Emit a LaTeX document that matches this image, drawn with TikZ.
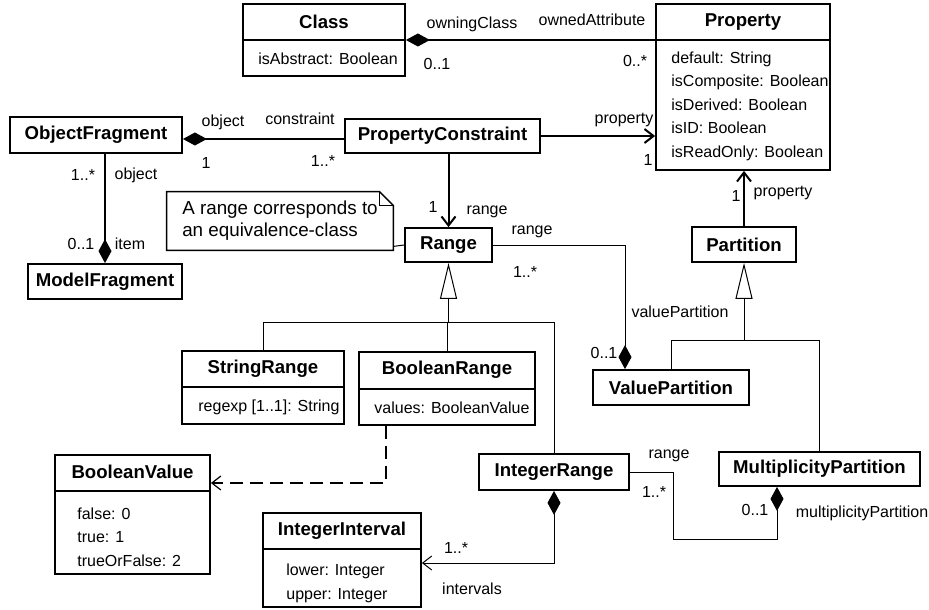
\documentclass[tikz,border=0pt]{standalone}
\usepackage{fontspec}
\setmainfont{Liberation Sans}
\usetikzlibrary{arrows.meta, shadows}

\begin{document}
\begin{tikzpicture}[
  x=0.5pt, y=-0.5pt,
  cls/.style={draw, line width=0.9pt, fill=white, inner sep=0pt,
              general shadow={fill=black!30, shadow xshift=0.7pt, shadow yshift=-0.7pt}},
  cname/.style={font=\bfseries\fontsize{9.3}{11}\selectfont, inner sep=0pt},
  attrs/.style={font=\fontsize{8}{11.75}\selectfont, align=left, anchor=west, inner sep=0pt},
  role/.style={font=\fontsize{8}{10}\selectfont, inner sep=0pt},
  assoc/.style={line width=1pt},
  thinline/.style={line width=0.5pt},
  compstart/.style={{Diamond[length=12pt, width=6.5pt]}-},
  compend/.style={-{Diamond[length=12pt, width=6.5pt]}},
  compnav/.style={{Diamond[length=12pt, width=6.5pt]}-{Straight Barb[length=4.5pt, width=7pt]}},
  nav/.style={-{Straight Barb[length=4.5pt, width=7pt]}},
  gen/.style={line width=0.5pt, -{Triangle[length=18pt, width=8.5pt, fill=white]}},
  dep/.style={line width=1pt, dash pattern=on 6.5pt off 3.5pt,
              -{Straight Barb[length=4.5pt, width=7pt, line width=0.6pt]}}
]
\useasboundingbox (0,0) rectangle (929,609);

% Top row — Class and Property
\node[cls, minimum width=81pt, minimum height=36pt] at (324,40)  (class) {};
\node[cname] at (324,22)  (classN) {Class};
\node[attrs] at (258,59)  (classA) {isAbstract: Boolean};
\draw[line width=0.9pt] ([yshift=-18.5pt]class.north west) -- ([yshift=-18.5pt]class.north east);

\node[cls, minimum width=87pt, minimum height=83pt] at (743,87)  (property) {};
\node[cname] at (743,22)  (propertyN) {Property};
\node[attrs] at (671,106) (propertyA) {default: String\\isComposite: Boolean\\isDerived: Boolean\\isID: Boolean\\isReadOnly: Boolean};
\draw[line width=0.9pt] ([yshift=-18.5pt]property.north west) -- ([yshift=-18.5pt]property.north east);

% Second row — fragments and constraint
\node[cls, cname, minimum width=86pt, minimum height=18pt]   at (96,135)    (objfrag)   {ObjectFragment};
\node[cls, cname, minimum width=77pt, minimum height=17.5pt] at (105,281.5) (modelfrag) {ModelFragment};
\node[cls, cname, minimum width=97.5pt, minimum height=17pt] at (442.5,136) (pcons)     {PropertyConstraint};

% Ranges
\node[cls, cname, minimum width=43.5pt, minimum height=17pt] at (448.5,245) (range) {Range};

\node[cls, minimum width=81pt, minimum height=36.5pt] at (263,387.5) (srange) {};
\node[cname] at (263,369) (srangeN) {StringRange};
\node[attrs] at (198,407) (srangeA) {regexp [1..1]: String};
\draw[line width=0.9pt] ([yshift=-18.5pt]srange.north west) -- ([yshift=-18.5pt]srange.north east);

\node[cls, minimum width=88pt, minimum height=36.5pt] at (447,388.5) (brange) {};
\node[cname] at (447,370) (brangeN) {BooleanRange};
\node[attrs] at (374,408) (brangeA) {values: BooleanValue};
\draw[line width=0.9pt] ([yshift=-19pt]brange.north west) -- ([yshift=-19pt]brange.north east);

\node[cls, cname, minimum width=75pt, minimum height=18pt] at (554,472) (irange) {IntegerRange};

\node[cls, minimum width=77.5pt, minimum height=59.5pt] at (132.5,514.5) (bvalue) {};
\node[cname] at (132.5,472) (bvalueN) {BooleanValue};
\node[attrs] at (77,537) (bvalueA) {false: 0\\true: 1\\trueOrFalse: 2};
\draw[line width=0.9pt] ([yshift=-18.5pt]bvalue.north west) -- ([yshift=-18.5pt]bvalue.north east);

\node[cls, minimum width=79pt, minimum height=47pt] at (342,560) (iinterval) {};
\node[cname] at (342,531) (iintervalN) {IntegerInterval};
\node[attrs] at (286,583.5) (iintervalA) {lower: Integer\\upper: Integer};
\draw[line width=0.9pt] ([yshift=-18.5pt]iinterval.north west) -- ([yshift=-18.5pt]iinterval.north east);

% Partitions
\node[cls, cname, minimum width=52pt, minimum height=17.5pt]  at (744,244.5) (partition) {Partition};
\node[cls, cname, minimum width=78pt, minimum height=17.5pt]  at (671,387.5) (vpart)     {ValuePartition};
\node[cls, cname, minimum width=100.5pt, minimum height=17pt] at (819.5,469) (mpart)     {MultiplicityPartition};

% Note
\node[minimum width=113pt, minimum height=29pt, inner sep=0pt, align=left,
      font=\fontsize{9.4}{11}\selectfont] at (280,221) (note) {A range corresponds to\\an equivalence-class};
\draw[line width=0.7pt] (note.north west) -- ([xshift=-7pt]note.north east) -- ([yshift=-7pt]note.north east)
  -- (note.south east) -- (note.south west) -- cycle;
\draw[line width=0.7pt] ([xshift=-7pt]note.north east) |- ([yshift=-7pt]note.north east);
\draw[thinline] ([yshift=2pt]note.south east) -- (range.west);

% Associations
\draw[assoc, compstart] (class.east) -- (class.east -| property.west);
\draw[assoc, compstart] ([yshift=-2pt]objfrag.east) -- ([yshift=-2pt]objfrag.east -| pcons.west);
\draw[assoc, compend]   (modelfrag.north |- objfrag.south) -- (modelfrag.north);
\draw[assoc, nav]       (pcons.east) -- (pcons.east -| property.west);
\draw[assoc, nav]       (pcons.south -| range.north) -- (range.north);
\draw[assoc, nav]       (partition.north) -- (partition.north |- property.south);
\draw[thinline, compend] (range.east) -| ([xshift=-23pt]vpart.north);
\draw[thinline, compend] (irange.east) -- ++(44,0) -- ++(0,67) -| ([xshift=-21.25pt]mpart.south);
\draw[thinline, compnav] (irange.south) |- ([yshift=-1.5pt]iinterval.east);
\draw[dep] ([xshift=14pt]brange.south west) |- ([yshift=15.75pt]bvalue.east);

% Generalizations
\coordinate (rangeJ) at ([yshift=-30pt]range.south);
\draw[gen] (rangeJ) -- (range.south);
\draw[thinline] (srange.north) |- (rangeJ) -| (irange.north);
\draw[thinline] (brange.north) -- (brange.north |- rangeJ);

\coordinate (partJ) at ([yshift=-39pt]partition.south);
\draw[gen] (partJ) -- (partition.south);
\draw[thinline] (vpart.north) |- (partJ) -| (mpart.north);

% Role names and multiplicities
\node[role] at (472,24)  (owningL)   {owningClass};
\node[role] at (592,20)  (ownedL)    {ownedAttribute};
\node[role] at (437,64)  (owningM)   {0..1};
\node[role] at (635,61)  (ownedM)    {0..*};

\node[role] at (223,122) (objectL)   {object};
\node[role] at (300,119) (constrL)   {constraint};
\node[role] at (206,163) (objectM)   {1};
\node[role] at (323,161) (constrM)   {1..*};

\node[role] at (624,120) (propL)     {property};
\node[role] at (648,160) (propM)     {1};

\node[role] at (83,175)  (objfragM)  {1..*};
\node[role] at (136,175) (objfragL)  {object};
\node[role] at (81,244)  (itemM)     {0..1};
\node[role] at (130,244) (itemL)     {item};

\node[role] at (433,207) (rangeM)    {1};
\node[role] at (487,212) (rangeL)    {range};

\node[role] at (532,232) (vrangeL)   {range};
\node[role] at (525,272) (vrangeM)   {1..*};
\node[role] at (680,312) (vpartL)    {valuePartition};
\node[role] at (604,353) (vpartM)    {0..1};

\node[role] at (736,196) (ppropM)    {1};
\node[role] at (783,193) (ppropL)    {property};

\node[role] at (669,456) (mrangeL)   {range};
\node[role] at (654,492) (mrangeM)   {1..*};
\node[role] at (755,510) (mpartM)    {0..1};
\node[role] at (862,513) (mpartL)    {multiplicityPartition};

\node[role] at (456,548) (intM)      {1..*};
\node[role] at (472,589) (intL)      {intervals};
\end{tikzpicture}
\end{document}
